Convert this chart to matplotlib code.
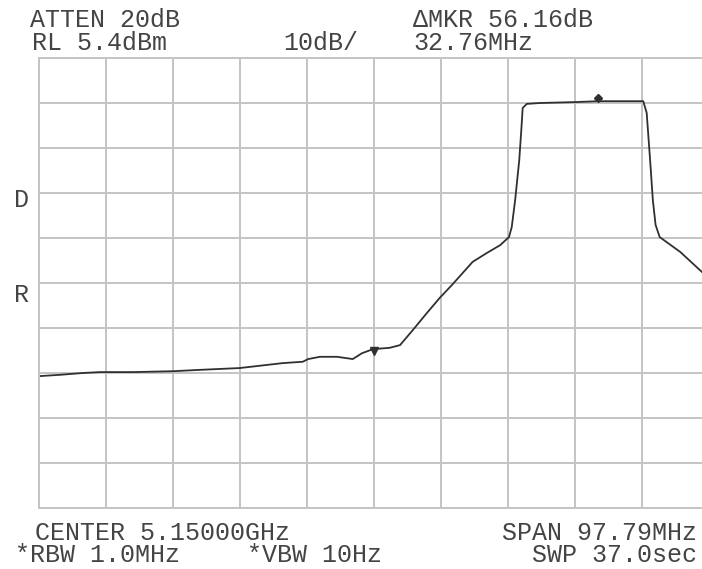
import numpy as np
import matplotlib
matplotlib.use("Agg")
from matplotlib import pyplot as plt

# analyzer settings
center_ghz = 5.15
span_mhz = 97.79
ref_level = 5.4
db_per_div = 10

# trace: offset from center (MHz) and level (dBm)
freq_off = [-48.9, -45.8, -42.5, -40.0, -35.2, -29.3, -25.4, -19.6, -15.6, -13.3,
            -10.4, -9.6, -7.9, -5.4, -3.1, -1.75, -0.15, 2.3, 3.8, 5.7,
            7.7, 9.6, 11.4, 14.4, 16.5, 18.4, 19.7, 20.1, 20.6, 21.2,
            21.5, 21.7, 22.3, 24.2, 29.3, 32.7, 35.9, 39.3, 39.8, 40.3,
            40.7, 41.1, 41.7, 44.7, 47.9, 48.9]
level = [-65.3, -65.0, -64.6, -64.4, -64.4, -64.2, -63.9, -63.5, -62.8, -62.4,
         -62.1, -61.5, -61.0, -61.0, -61.5, -60.2, -59.3, -59.0, -58.4, -55.0,
         -51.3, -47.9, -45.0, -39.9, -37.9, -36.2, -34.4, -32.2, -26.2, -17.3,
         -10.6, -5.7, -4.8, -4.6, -4.4, -4.2, -4.2, -4.2, -6.8, -17.3,
         -26.2, -31.7, -34.4, -37.7, -42.2, -43.3]

# markers
ref_mkr_off = 0.0
ref_mkr_level = -59.6
delta_mkr_mhz = 32.76
delta_mkr_db = 56.16

W, H = 702, 569
fig = plt.figure(figsize=(W / 100, H / 100), dpi=100)
fig.patch.set_facecolor("white")

# graticule: 10 x 10 divisions, right edge runs past the frame
ax = fig.add_axes([39 / W, (H - 508) / H, 670 / W, 450 / H])
half = span_mhz / 2
ax.set_xlim(-half, half)
ax.set_ylim(ref_level - 10 * db_per_div, ref_level)
ax.set_xticks(np.linspace(-half, half, 11))
ax.set_yticks(ref_level - db_per_div * np.arange(11))
ax.tick_params(length=0, labelbottom=False, labelleft=False)
ax.grid(True, color="#c4c4c4", linewidth=1.4)
for sp in ax.spines.values():
    sp.set_color("#c4c4c4")
    sp.set_linewidth(1.4)
ax.set_axisbelow(True)

ax.plot(freq_off, level, color="#303030", linewidth=1.3, clip_on=False)
ax.plot([ref_mkr_off], [ref_mkr_level], marker="v", markersize=6,
        color="#303030", linestyle="none")
ax.plot([ref_mkr_off + delta_mkr_mhz], [ref_mkr_level + delta_mkr_db],
        marker="D", markersize=4.5, color="#303030", linestyle="none")

mono = ["Liberation Mono", "DejaVu Sans Mono"]
tc = "#444444"
fs = 18


def label(x, y, s, ha="left"):
    fig.text(x / W, 1 - y / H, s, ha=ha, va="baseline", fontsize=fs,
             family=mono, color=tc)


label(30, 27, "ATTEN 20dB")
label(32, 50, "RL 5.4dBm")
label(283, 50, "10dB/")
label(413, 27, "\u0394MKR %.2fdB" % delta_mkr_db)
label(413, 50, "%.2fMHz" % delta_mkr_mhz)
label(14, 207, "D")
label(14, 302, "R")
label(35, 540, "CENTER %.5fGHz" % center_ghz)
label(15, 562, "*RBW 1.0MHz")
label(247, 562, "*VBW 10Hz")
label(697, 540, "SPAN %.2fMHz" % span_mhz, ha="right")
label(697, 562, "SWP 37.0sec", ha="right")

fig.savefig("out.png", dpi=100)
